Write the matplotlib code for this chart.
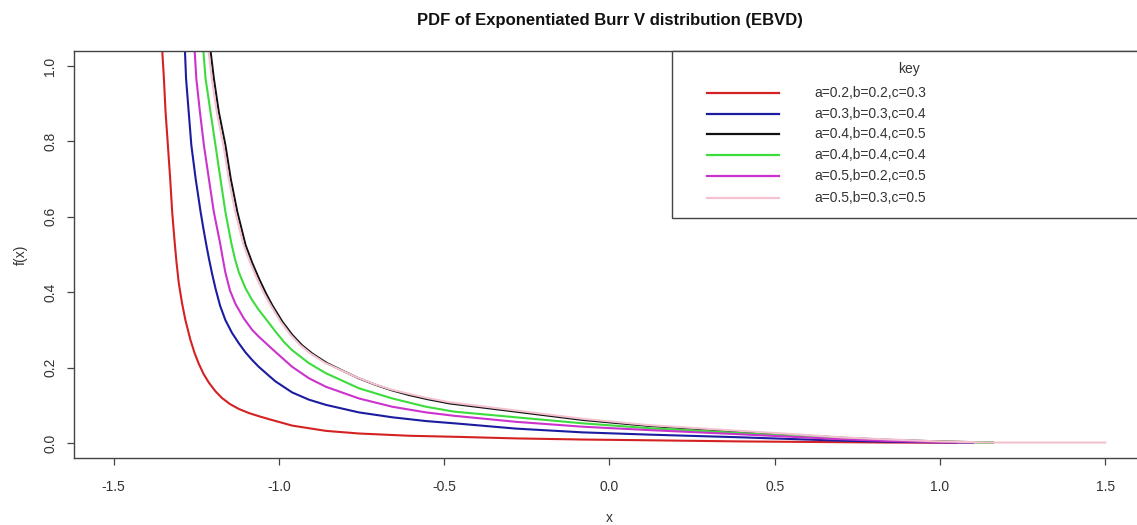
import matplotlib
matplotlib.use("Agg")
import matplotlib.pyplot as plt
from matplotlib.patches import Rectangle
from matplotlib.lines import Line2D

plt.rcParams["font.family"] = ["Liberation Sans", "DejaVu Sans"]

# curve values
RED_X = [-1.358, -1.354, -1.348, -1.343, -1.336, -1.329, -1.323, -1.316, -1.310, -1.303,
         -1.293, -1.283, -1.268, -1.255, -1.242, -1.228, -1.212, -1.192, -1.172, -1.148,
         -1.121, -1.090, -1.061, -1.030, -0.960, -0.858, -0.758, -0.606, -0.455, -0.283,
         -0.081, 0.121, 0.394, 0.697, 0.850, 1.050]
RED_Y = [1.10, 1.055, 0.967, 0.878, 0.790, 0.701, 0.613, 0.538, 0.480, 0.424,
         0.370, 0.326, 0.274, 0.238, 0.209, 0.183, 0.160, 0.137, 0.119, 0.103,
         0.090, 0.079, 0.071, 0.063, 0.046, 0.032, 0.025, 0.019, 0.016, 0.012,
         0.009, 0.007, 0.004, 0.002, 0.001, 0.0005]

BLUE_X = [-1.287, -1.285, -1.281, -1.273, -1.265, -1.252, -1.237, -1.228, -1.219, -1.212,
          -1.202, -1.192, -1.178, -1.162, -1.142, -1.121, -1.101, -1.081, -1.061, -1.030,
          -1.010, -0.960, -0.910, -0.858, -0.758, -0.657, -0.555, -0.455, -0.283, -0.081,
          0.121, 0.394, 0.697, 0.850, 1.000, 1.100]
BLUE_Y = [1.10, 1.055, 0.967, 0.878, 0.790, 0.701, 0.613, 0.566, 0.522, 0.490,
          0.448, 0.410, 0.364, 0.326, 0.292, 0.264, 0.240, 0.220, 0.202, 0.178,
          0.163, 0.134, 0.115, 0.101, 0.081, 0.068, 0.058, 0.051, 0.038, 0.028,
          0.022, 0.015, 0.006, 0.003, 0.0015, 0.0005]

BLACK_X = [-1.212, -1.209, -1.197, -1.182, -1.162, -1.146, -1.126, -1.101, -1.081, -1.061,
           -1.040, -1.020, -0.990, -0.960, -0.930, -0.899, -0.855, -0.808, -0.760, -0.707,
           -0.660, -0.606, -0.550, -0.485, -0.283, -0.081, 0.121, 0.394, 0.524, 0.700,
           0.850, 1.000, 1.160]
BLACK_Y = [1.10, 1.055, 0.967, 0.878, 0.790, 0.701, 0.613, 0.525, 0.478, 0.437,
           0.398, 0.365, 0.322, 0.287, 0.259, 0.237, 0.212, 0.192, 0.172, 0.154,
           0.140, 0.127, 0.116, 0.105, 0.083, 0.061, 0.045, 0.030, 0.023, 0.014,
           0.008, 0.004, 0.001]

GREEN_X = [-1.233, -1.230, -1.222, -1.207, -1.192, -1.177, -1.162, -1.144, -1.133, -1.121,
           -1.101, -1.081, -1.061, -1.030, -1.010, -0.985, -0.960, -0.910, -0.858, -0.758,
           -0.657, -0.555, -0.470, -0.283, -0.081, 0.121, 0.394, 0.700, 0.850, 1.000,
           1.160]
GREEN_Y = [1.10, 1.055, 0.967, 0.878, 0.790, 0.701, 0.613, 0.530, 0.488, 0.452,
           0.410, 0.379, 0.353, 0.318, 0.295, 0.268, 0.246, 0.212, 0.185, 0.145,
           0.118, 0.096, 0.083, 0.068, 0.052, 0.039, 0.026, 0.012, 0.007, 0.003,
           0.001]

MAG_X = [-1.259, -1.256, -1.250, -1.239, -1.227, -1.212, -1.197, -1.178, -1.170, -1.162,
         -1.148, -1.131, -1.106, -1.081, -1.061, -1.030, -1.010, -0.960, -0.910, -0.858,
         -0.758, -0.657, -0.555, -0.470, -0.283, -0.081, 0.121, 0.394, 0.697, 0.850,
         1.000, 1.100]
MAG_Y = [1.10, 1.055, 0.967, 0.878, 0.790, 0.701, 0.613, 0.530, 0.490, 0.452,
         0.404, 0.368, 0.330, 0.300, 0.282, 0.257, 0.241, 0.202, 0.172, 0.149,
         0.118, 0.096, 0.081, 0.072, 0.056, 0.043, 0.034, 0.023, 0.010, 0.005,
         0.002, 0.001]

PINK_X = [-1.217, -1.215, -1.203, -1.188, -1.168, -1.152, -1.132, -1.107, -1.087, -1.067,
          -1.046, -1.025, -0.995, -0.965, -0.935, -0.904, -0.860, -0.812, -0.764, -0.711,
          -0.662, -0.606, -0.550, -0.485, -0.283, -0.081, 0.121, 0.394, 0.524, 0.700,
          0.850, 1.000, 1.160, 1.500]
PINK_Y = [1.10, 1.055, 0.967, 0.878, 0.790, 0.701, 0.613, 0.525, 0.478, 0.437,
          0.398, 0.365, 0.322, 0.287, 0.259, 0.237, 0.212, 0.193, 0.174, 0.156,
          0.142, 0.130, 0.119, 0.108, 0.086, 0.064, 0.047, 0.032, 0.025, 0.015,
          0.009, 0.004, 0.001, 0.001]

LABELS = ["a=0.2,b=0.2,c=0.3", "a=0.3,b=0.3,c=0.4", "a=0.4,b=0.4,c=0.5",
          "a=0.4,b=0.4,c=0.4", "a=0.5,b=0.2,c=0.5", "a=0.5,b=0.3,c=0.5"]
COLORS = ["#d42222", "#1c1ca0", "#111111", "#3ddc3d", "#cc33cc", "#f4c2cf"]
X_TICKS = [-1.5, -1.0, -0.5, 0.0, 0.5, 1.0, 1.5]
Y_TICKS = [0.0, 0.2, 0.4, 0.6, 0.8, 1.0]

series = [(RED_X, RED_Y), (BLUE_X, BLUE_Y), (BLACK_X, BLACK_Y),
          (GREEN_X, GREEN_Y), (MAG_X, MAG_Y), (PINK_X, PINK_Y)]

W, H = 1137, 525
fig = plt.figure(figsize=(W / 100, H / 100), dpi=100)
# plot region runs past the right edge of the picture, as in the reference
ax = fig.add_axes([74 / W, 1 - 458 / H, (1145 - 74) / W, (458 - 51) / H])

for (xs, ys), col in zip(series, COLORS):
    ax.plot(xs, ys, color=col, lw=1.5, solid_joinstyle="round")

ax.set_xlim(-1.62, 1.62)
ax.set_ylim(-0.04, 1.04)
ax.set_xticks(X_TICKS)
ax.set_xticklabels([f"{t:.1f}" for t in X_TICKS])
ax.set_yticks(Y_TICKS)
ax.set_yticklabels([f"{t:.1f}" for t in Y_TICKS], rotation=90, va="center")

text_col = "#333333"
for s in ax.spines.values():
    s.set_color("#444444")
    s.set_linewidth(1.0)
ax.tick_params(axis="both", length=5, width=0.9, color="#444444",
               labelsize=10, labelcolor=text_col)
ax.tick_params(axis="x", pad=11)
ax.tick_params(axis="y", pad=7)

ax.set_xlabel("x", fontsize=10, color=text_col, labelpad=12)
ax.set_ylabel("f(x)", fontsize=10, color=text_col, labelpad=11)
ax.set_title("PDF of Exponentiated Burr V distribution (EBVD)",
             fontsize=12, fontweight="bold", color="#111111", pad=19)

# legend box drawn by hand, R style (topright, box extends past the edge)
ax.add_patch(Rectangle((0.558, 0.590), 0.5, 0.41, transform=ax.transAxes,
                       facecolor="white", edgecolor="#444444", lw=1.0,
                       clip_on=False, zorder=5))
ax.text(0.780, 0.957, "key", transform=ax.transAxes, ha="center", va="center",
        fontsize=10, color=text_col, zorder=6)
row_y = [0.898, 0.846, 0.796, 0.744, 0.693, 0.640]
for lab, col, yy in zip(LABELS, COLORS, row_y):
    ax.add_line(Line2D([0.591, 0.658], [yy, yy], transform=ax.transAxes,
                       color=col, lw=1.6, zorder=6))
    ax.text(0.691, yy, lab, transform=ax.transAxes, ha="left", va="center",
            fontsize=10, color=text_col, zorder=6)

fig.savefig("out.png", dpi=100, facecolor="white")
